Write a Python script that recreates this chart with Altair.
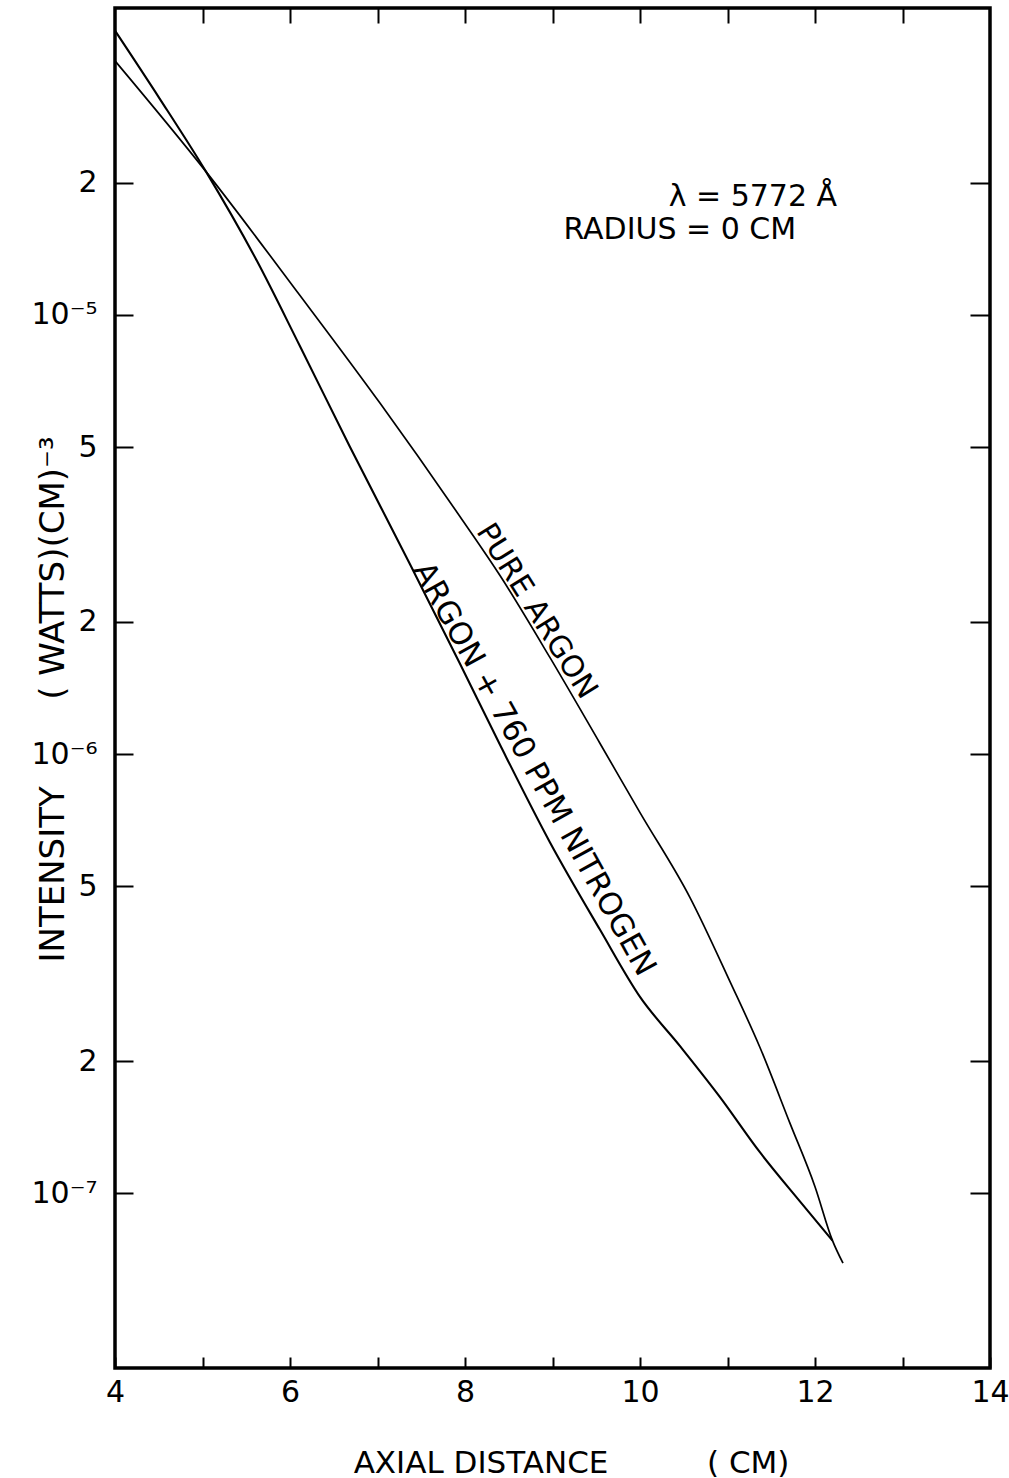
import altair as alt
import pandas as pd

NB = "\u00a0"  # non-breaking space keeps wide gaps in SVG text

# ---- data ----
x_pure = [4.0, 5.04, 6.11, 7.03, 7.94, 8.40, 8.97, 9.54, 10.0, 10.57, 11.03, 11.37, 11.71, 12.0, 12.2, 12.32]
y_pure = [3.79e-5, 2.12e-5, 1.11e-5, 6.29e-6, 3.48e-6, 2.55e-6, 1.66e-6, 1.06e-6, 7.36e-7,
          4.72e-7, 3.03e-7, 2.15e-7, 1.45e-7, 1.035e-7, 7.80e-8, 6.93e-8]

x_n2 = [4.0, 4.51, 5.04, 5.62, 6.11, 6.68, 7.37, 7.94, 8.40, 8.97, 9.54, 10.0, 10.46, 10.91,
        11.37, 11.83, 12.2]
y_n2 = [4.44e-5, 3.11e-5, 2.12e-5, 1.33e-5, 8.52e-6, 5.03e-6, 2.71e-6, 1.61e-6, 1.05e-6,
        6.30e-7, 3.99e-7, 2.80e-7, 2.16e-7, 1.66e-7, 1.24e-7, 9.57e-8, 7.80e-8]

x_ticks = list(range(4, 15))
x_top_ticks = list(range(5, 14))
y_ticks = [2e-5, 1e-5, 5e-6, 2e-6, 1e-6, 5e-7, 2e-7, 1e-7]
y_tick_labels = ["2", "10⁻⁵", "5", "2", "10⁻⁶", "5", "2", "10⁻⁷"]

curve_labels = ["PURE ARGON", "ARGON + 760 PPM NITROGEN"]
curve_label_x = [8.69, 8.654]
curve_label_y = [2.04e-6, 8.93e-7]
curve_label_angle = [58, 61]
curve_label_size = [30, 31]

note_text = ["λ = 5772 Å", "RADIUS = 0 CM"]
note_x = [11.29, 10.455]
note_y = [1.77e-5, 1.49e-5]

x_title = "AXIAL DISTANCE" + NB * 10 + "(" + NB + "CM)"
y_title = "INTENSITY" + NB * 8 + "(" + NB + "WATTS)(CM)⁻³"

FONT = "DejaVu Sans"

pure_df = pd.DataFrame({"x": x_pure, "y": y_pure})
n2_df = pd.DataFrame({"x": x_n2, "y": y_n2})
lab_df = pd.DataFrame({"x": curve_label_x, "y": curve_label_y, "t": curve_labels,
                       "a": curve_label_angle, "s": curve_label_size})
note_df = pd.DataFrame({"x": note_x, "y": note_y, "t": note_text})

xs = alt.Scale(domain=[4, 14], nice=False, zero=False)
ys = alt.Scale(type="log", domain=[4e-8, 5e-5], nice=False)

y_expr = " : ".join(f"datum.value == {v!r} ? '{l}'" for v, l in zip(y_ticks, y_tick_labels)) + " : ''"

axis_common = dict(domain=False, grid=False, tickColor="black", tickWidth=2,
                   labelFont=FONT, labelColor="black", titleFont=FONT, titleColor="black",
                   titleFontWeight="normal", labelOverlap=False)

x_bottom = alt.Axis(orient="bottom", values=x_ticks, offset=-11, tickSize=11,
                    labelExpr="datum.value % 2 == 0 ? datum.label : ''", labelFlush=False,
                    labelPadding=9, labelFontSize=30,
                    title=x_title, titleFontSize=31,
                    titleX=456, titleY=115, titleAlign="center", titleBaseline="alphabetic",
                    **axis_common)
y_left = alt.Axis(orient="left", values=y_ticks, offset=-18, tickSize=18,
                  labelExpr=y_expr, labelPadding=18, labelFontSize=30, labelBaseline="middle",
                  title=y_title, titleFontSize=34, titleAngle=270,
                  titleX=-70, titleY=691, titleAlign="center", titleBaseline="alphabetic",
                  **axis_common)
x_top = alt.Axis(orient="top", values=x_top_ticks, offset=-15, tickSize=15, labels=False,
                 title=None, **axis_common)
y_right = alt.Axis(orient="right", values=y_ticks, offset=-20, tickSize=20, labels=False,
                   title=None, **axis_common)

pure_line = alt.Chart(pure_df).mark_line(color="black", strokeWidth=1.7, interpolate="monotone").encode(
    x=alt.X("x:Q", scale=xs, axis=x_bottom),
    y=alt.Y("y:Q", scale=ys, axis=y_left),
)
n2_line = alt.Chart(n2_df).mark_line(color="black", strokeWidth=2.1, interpolate="monotone").encode(
    x=alt.X("x:Q", scale=xs, axis=x_top),
    y=alt.Y("y:Q", scale=ys, axis=y_right),
)
curve_text = alt.Chart(lab_df).mark_text(font=FONT, color="black", align="center",
                                         baseline="alphabetic", dy=-4).encode(
    x=alt.X("x:Q", scale=xs, axis=None),
    y=alt.Y("y:Q", scale=ys, axis=None),
    text="t:N",
    angle=alt.Angle("a:Q", scale=None),
    size=alt.Size("s:Q", scale=None, legend=None),
)
notes = alt.Chart(note_df).mark_text(font=FONT, fontSize=30, color="black", align="center",
                                     baseline="alphabetic").encode(
    x=alt.X("x:Q", scale=xs, axis=None),
    y=alt.Y("y:Q", scale=ys, axis=None),
    text="t:N",
)

chart = alt.layer(pure_line, n2_line, curve_text, notes).resolve_axis(
    x="independent", y="independent"
).properties(
    width=875, height=1360,
    autosize=alt.AutoSizeParams(type="none"),
    padding={"left": 115, "top": 8, "right": 19, "bottom": 110},
    background="white",
).configure_view(stroke="black", strokeWidth=3.5)

chart.save("out.html", embed_options={"renderer": "svg", "actions": False})
